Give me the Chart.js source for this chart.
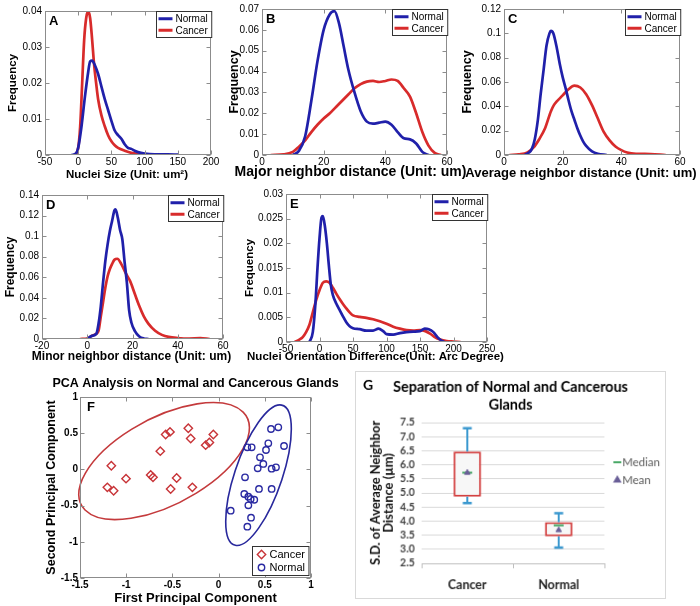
<!DOCTYPE html>
<html>
<head>
<meta charset="utf-8">
<script src="https://cdn.jsdelivr.net/npm/chart.js@4.4.1/dist/chart.umd.min.js"></script>
<style>
  body { margin: 0; background: #fff; }
  #page { position: relative; width: 700px; height: 606px; overflow: hidden; background: #fff; }
  #page canvas { position: absolute; }
</style>
</head>
<body>
<div id="page">
  <canvas id="panelA" width="225" height="187" style="left:0;top:0"></canvas>
  <canvas id="panelB" width="250" height="187" style="left:224px;top:0"></canvas>
  <canvas id="panelC" width="243" height="187" style="left:457px;top:0"></canvas>
  <canvas id="panelD" width="236" height="188" style="left:0;top:180px"></canvas>
  <canvas id="panelE" width="272" height="188" style="left:239px;top:180px"></canvas>
  <canvas id="panelF" width="310" height="235" style="left:40px;top:372px"></canvas>
  <canvas id="panelG" width="311" height="228" style="left:355px;top:371px;border:1px solid #d9d9d9"></canvas>
</div>
<script>
var legendLabels = ['Normal', 'Cancer'];

// A: nuclei size, [x, frequency]
var sizeNormal = [[-10,0],[-3,0.0005],[0,0.002],[5,0.008],[10,0.016],[15,0.023],[18,0.026],[21,0.0262],[25,0.025],[30,0.0225],[35,0.019],[40,0.0155],[45,0.0125],[50,0.0095],[55,0.0068],[60,0.0055],[65,0.0045],[70,0.003],[75,0.002],[80,0.0017],[85,0.0012],[90,0.0008],[100,0.0004],[115,0.0002],[135,0.0002],[150,0.0001]];
var sizeCancer = [[-5,0],[0,0.002],[3,0.008],[6,0.02],[9,0.032],[12,0.038],[15,0.04],[18,0.038],[21,0.032],[24,0.025],[27,0.02],[30,0.0155],[35,0.011],[40,0.008],[45,0.0055],[50,0.0038],[55,0.0027],[60,0.002],[70,0.0012],[80,0.0006],[95,0.0002],[125,0]];

// B: major neighbor distance
var majorNormal = [[10,0],[12,0.002],[14,0.009],[16,0.026],[18,0.045],[20,0.06],[22,0.0675],[23.5,0.069],[25,0.063],[26.5,0.052],[28,0.041],[30,0.03],[32,0.021],[34,0.016],[36,0.015],[38,0.0155],[40,0.016],[42,0.0145],[44,0.011],[46,0.008],[48,0.0075],[50,0.0055],[52,0.0015],[54,0]];
var majorCancer = [[3,0],[7,0.0003],[10,0.0015],[12,0.004],[14,0.007],[16,0.011],[18,0.0145],[20,0.0175],[22,0.02],[24,0.023],[26,0.026],[28,0.029],[30,0.032],[32,0.034],[34,0.0352],[36,0.0355],[38,0.035],[40,0.0355],[42,0.0362],[44,0.0355],[46,0.032],[48,0.028],[50,0.02],[52,0.011],[54,0.0045],[56,0.001],[58,0]];

// C: average neighbor distance
var avgNormal = [[7,0],[8.5,0.002],[9.5,0.005],[10.5,0.013],[11.5,0.028],[12.5,0.05],[13.5,0.07],[14.5,0.09],[15.5,0.1],[16,0.102],[16.8,0.1],[18,0.088],[19,0.075],[20,0.064],[21,0.055],[22,0.045],[23,0.036],[24,0.029],[25,0.022],[26,0.016],[27,0.011],[28,0.0075],[30,0.003],[32,0.001],[35,0]];
var avgCancer = [[2,0],[5,0.0005],[8,0.002],[10,0.006],[12,0.013],[14,0.022],[16,0.036],[17,0.041],[18,0.044],[20,0.049],[22,0.054],[24,0.057],[26,0.0555],[28,0.05],[30,0.041],[32,0.03],[34,0.019],[36,0.012],[38,0.007],[40,0.004],[42,0.002],[45,0.001],[50,0.0008],[55,0]];

// D: minor neighbor distance
var minorNormal = [[0,0],[2,0.003],[4,0.005],[5,0.015],[6,0.032],[7,0.055],[8,0.076],[9,0.092],[10,0.105],[11,0.115],[12,0.125],[12.5,0.126],[13.5,0.118],[14.5,0.106],[15.5,0.097],[16.5,0.075],[17.5,0.055],[18.5,0.028],[19.5,0.016],[21,0.008],[23,0.0025],[25,0.0005],[27,0]];
var minorCancer = [[-3,0],[0,0.0005],[2,0.003],[4,0.005],[5,0.008],[6,0.022],[7,0.036],[8,0.05],[9,0.061],[10,0.068],[11,0.073],[12,0.077],[13.3,0.078],[15,0.073],[17,0.064],[19,0.056],[21,0.044],[23,0.032],[25,0.022],[27,0.015],[30,0.008],[33,0.004],[36,0.002],[40,0.001],[45,0.0005],[50,0.0008],[54,0]];

// E: nuclei orientation difference
var orientNormal = [[-15,0],[-10,0.002],[-6,0.008],[-3,0.015],[0,0.021],[3,0.0252],[5,0.0255],[8,0.0235],[11,0.02],[14,0.0155],[17,0.0115],[20,0.0095],[25,0.0078],[30,0.0065],[35,0.0052],[40,0.004],[45,0.0032],[50,0.0028],[60,0.0026],[70,0.0023],[80,0.0023],[88,0.0027],[95,0.0022],[100,0.0016],[110,0.0015],[120,0.0018],[130,0.002],[140,0.0021],[150,0.0022],[157,0.0027],[163,0.0026],[170,0.002],[176,0.001],[182,0.0003],[186,0]];
var orientCancer = [[-37,0],[-30,0.0005],[-25,0.001],[-20,0.002],[-15,0.0035],[-10,0.006],[-5,0.0085],[0,0.0105],[5,0.012],[10,0.0123],[15,0.012],[20,0.011],[25,0.0098],[30,0.0087],[35,0.0077],[40,0.0068],[45,0.006],[50,0.0054],[60,0.0051],[70,0.0049],[80,0.0046],[90,0.0042],[100,0.0037],[110,0.0031],[120,0.0027],[130,0.0024],[140,0.0023],[150,0.0024],[158,0.0022],[165,0.0017],[172,0.001],[180,0.0005],[190,0.0002],[200,0.0001],[210,0]];

// F: PCA scores [pc1, pc2]
var pcaCancer = [[-1.204,-0.248],[-1.161,0.05],[-1.136,-0.294],[-1.002,-0.128],[-0.735,-0.078],[-0.71,-0.11],[-0.631,0.252],[-0.573,0.482],[-0.526,0.518],[-0.519,-0.271],[-0.454,-0.119],[-0.328,0.569],[-0.302,0.427],[-0.284,-0.248],[-0.14,0.335],[-0.1,0.372],[-0.057,0.482]];
var pcaNormal = [[0.567,0.558],[0.646,0.581],[0.538,0.36],[0.513,0.268],[0.708,0.323],[0.311,0.305],[0.358,0.305],[0.448,0.167],[0.484,0.075],[0.423,0.015],[0.574,0.01],[0.621,0.029],[0.286,-0.109],[0.437,-0.27],[0.574,-0.27],[0.278,-0.34],[0.322,-0.377],[0.347,-0.409],[0.386,-0.419],[0.322,-0.496],[0.131,-0.57],[0.351,-0.667],[0.311,-0.791]];
// ellipses: centre x, centre y, semi-major, semi-minor, angle (deg)
var cancerEllipse = [-0.59, 0.115, 1.09, 0.563, 38.3];
var normalEllipse = [0.432, -0.08, 1.0, 0.26, 75.5];

// G: box plot of S.D. of average neighbor distance
var boxGroups = ['Cancer', 'Normal'];
var whiskerLow = [4.64, 3.06];
var quart1 = [4.87, 3.46];
var medianVals = [5.72, 3.85];
var meanVals = [5.72, 3.68];
var quart3 = [6.47, 3.96];
var whiskerHigh = [7.3, 4.28];

Chart.defaults.font.family = "'Liberation Sans', Arial, sans-serif";
Chart.defaults.color = '#000';

var BLUE = '#2020aa', RED = '#d82b2b';

function toXY(pts) {
    return pts.map(function (p) { return { x: p[0], y: p[1] }; });
}
function fmt(v) {
    return String(parseFloat(Number(v).toFixed(4)));
}

var panelDeco = {
    id: 'panelDeco',
    beforeDatasetsDraw: function (chart, args, opts) {
        if (!opts.ellipses) return;
        var ctx = chart.ctx, xs = chart.scales.x, ys = chart.scales.y;
        opts.ellipses.forEach(function (el) {
            var e = el.shape;
            var cx = xs.getPixelForValue(e[0]), cy = ys.getPixelForValue(e[1]);
            var kx = xs.getPixelForValue(e[0] + 1) - cx;
            var ky = ys.getPixelForValue(e[1] + 1) - cy;
            ctx.save();
            ctx.beginPath();
            ctx.save();
            ctx.translate(cx, cy);
            ctx.scale(kx, ky);
            ctx.rotate(e[4] * Math.PI / 180);
            ctx.ellipse(0, 0, e[2], e[3], 0, 0, Math.PI * 2);
            ctx.restore();
            ctx.strokeStyle = el.color;
            ctx.lineWidth = 1.6;
            ctx.stroke();
            ctx.restore();
        });
    },
    afterDatasetsDraw: function (chart, args, opts) {
        var ctx = chart.ctx, a = chart.chartArea;
        ctx.save();
        if (opts.frame) {
            var L = Math.round(a.left) + 0.5, T = Math.round(a.top) + 0.5;
            var R = Math.round(a.right) - 0.5, B = Math.round(a.bottom) - 0.5;
            ctx.strokeStyle = '#8c8c8c';
            ctx.lineWidth = 1;
            ctx.strokeRect(L, T, R - L, B - T);
            ctx.beginPath();
            var xs = chart.scales.x, ys = chart.scales.y;
            xs.ticks.forEach(function (t, i) {
                var px = Math.round(xs.getPixelForTick(i)) + 0.5;
                ctx.moveTo(px, B); ctx.lineTo(px, B - 4);
                ctx.moveTo(px, T); ctx.lineTo(px, T + 4);
            });
            ys.ticks.forEach(function (t, i) {
                var py = Math.round(ys.getPixelForTick(i)) + 0.5;
                ctx.moveTo(L, py); ctx.lineTo(L + 4, py);
                ctx.moveTo(R, py); ctx.lineTo(R - 4, py);
            });
            ctx.stroke();
        }
        if (opts.letter) {
            ctx.fillStyle = '#000';
            ctx.font = 'bold ' + (opts.letterFont || 13) + 'px ' + (opts.family || "'Liberation Sans', Arial");
            ctx.textAlign = 'left';
            ctx.textBaseline = 'middle';
            ctx.fillText(opts.letter, a.left + (opts.letterDx || 4), a.top + (opts.letterDy || 10));
        }
        if (opts.xTitle) {
            ctx.fillStyle = '#000';
            ctx.font = 'bold ' + opts.xTitleFont + 'px ' + "'Liberation Sans', Arial";
            ctx.textAlign = 'center';
            ctx.textBaseline = 'middle';
            ctx.fillText(opts.xTitle, (a.left + a.right) / 2 + (opts.xTitleDx || 0), a.bottom + opts.xTitleDy);
        }
        if (opts.yTitle) {
            var yt = opts.yTitle;
            ctx.fillStyle = '#111';
            ctx.font = yt.font;
            ctx.textAlign = 'center';
            ctx.textBaseline = 'middle';
            yt.lines.forEach(function (line, i) {
                ctx.save();
                ctx.translate(a.left + yt.dx[i], (a.top + a.bottom) / 2);
                ctx.rotate(-Math.PI / 2);
                ctx.fillText(line, 0, 0);
                ctx.restore();
            });
        }
        if (opts.title) {
            var t = opts.title;
            ctx.fillStyle = '#000';
            ctx.font = t.font;
            ctx.textAlign = 'center';
            ctx.textBaseline = 'middle';
            var tx = t.center === 'canvas' ? chart.width / 2 : (a.left + a.right) / 2;
            t.lines.forEach(function (line, i) {
                ctx.fillText(line, tx, a.top + t.dy + i * t.lh);
            });
        }
        if (opts.legend) {
            var sets = chart.data.datasets;
            var fs = opts.legendFont || 10;
            ctx.font = fs + "px 'Liberation Sans', Arial";
            var tw = 0;
            sets.forEach(function (d) { tw = Math.max(tw, ctx.measureText(d.label).width); });
            var sample = opts.markers ? 12 : 14;
            var rowH = opts.rowH || 11.5;
            var w = 3 + sample + 2 + tw + 4, h = rowH * sets.length + 3;
            var gap = opts.legendGap || 0;
            var x0 = Math.round(a.right - w - gap) + 0.5;
            var y0 = Math.round(opts.legend === 'br' ? a.bottom - h - gap : a.top + gap) + 0.5;
            ctx.fillStyle = '#fff';
            ctx.fillRect(x0, y0, w, h);
            ctx.strokeStyle = '#333';
            ctx.lineWidth = 1;
            ctx.strokeRect(x0, y0, w, h);
            sets.forEach(function (d, i) {
                var yy = y0 + 1.5 + rowH * (i + 0.5);
                ctx.strokeStyle = d.borderColor;
                if (opts.markers) {
                    ctx.fillStyle = 'rgba(0,0,0,0)';
                    ctx.lineWidth = d.borderWidth;
                    Chart.helpers.drawPoint(ctx, { pointStyle: d.pointStyle, radius: d.pointRadius, borderWidth: d.borderWidth, rotation: 0 }, x0 + 3 + sample / 2, yy);
                } else {
                    ctx.lineWidth = 3;
                    ctx.beginPath();
                    ctx.moveTo(x0 + 2, yy);
                    ctx.lineTo(x0 + 2 + sample, yy);
                    ctx.stroke();
                }
                ctx.fillStyle = '#000';
                ctx.textAlign = 'left';
                ctx.textBaseline = 'middle';
                ctx.fillText(d.label, x0 + 3 + sample + 2, yy + 0.5);
            });
        }
        if (opts.sideLegend) {
            ctx.font = "11.5px Lato, 'Liberation Sans'";
            ctx.textAlign = 'left';
            ctx.textBaseline = 'middle';
            opts.sideLegend.forEach(function (it, i) {
                var yy = a.top + 40 + i * 18;
                var mx = a.right + 13;
                ctx.strokeStyle = it.color;
                ctx.fillStyle = it.color;
                ctx.lineWidth = 2;
                Chart.helpers.drawPoint(ctx, { pointStyle: it.style, radius: it.radius, borderWidth: 2, rotation: 0 }, mx, yy);
                ctx.fillStyle = '#595959';
                ctx.fillText(it.label, a.right + 18, yy);
            });
        }
        ctx.restore();
    }
};

function densityPanel(id, normal, cancer, s) {
    return new Chart(document.getElementById(id), {
        type: 'line',
        data: {
            datasets: [
                { label: legendLabels[0], data: toXY(normal), borderColor: BLUE },
                { label: legendLabels[1], data: toXY(cancer), borderColor: RED }
            ]
        },
        options: {
            responsive: false,
            animation: false,
            events: [],
            layout: { padding: { top: s.top, right: s.right, left: 0, bottom: 0 } },
            elements: {
                point: { radius: 0 },
                line: { borderWidth: 2.7, cubicInterpolationMode: 'monotone', borderCapStyle: 'round', borderJoinStyle: 'round' }
            },
            plugins: {
                legend: { display: false },
                tooltip: { enabled: false },
                panelDeco: {
                    frame: true, letter: s.letter, legend: 'tr', legendFont: 10,
                    xTitle: s.xTitle, xTitleFont: s.xtf, xTitleDy: s.xdy, xTitleDx: s.xdx
                }
            },
            scales: {
                x: {
                    type: 'linear', min: s.x[0], max: s.x[1],
                    ticks: { stepSize: s.x[2], autoSkip: false, maxRotation: 0, padding: 1, font: { size: 10 }, callback: fmt },
                    grid: { display: false, drawTicks: false },
                    border: { display: false },
                    afterFit: function (sc) { sc.height = s.xH; }
                },
                y: {
                    min: 0, max: s.y[0],
                    ticks: { stepSize: s.y[1], autoSkip: false, padding: 3, font: { size: 10 }, callback: fmt },
                    grid: { display: false, drawTicks: false },
                    border: { display: false },
                    title: { display: true, text: 'Frequency', font: { size: s.ytf, weight: 'bold' }, padding: { top: s.ytp, bottom: 0 } },
                    afterFit: function (sc) { sc.width = s.yW; }
                }
            }
        },
        plugins: [panelDeco]
    });
}

densityPanel('panelA', sizeNormal, sizeCancer, {
    letter: 'A', top: 11, right: 14, yW: 45, xH: 32, x: [-50, 200, 50], y: [0.04, 0.01],
    xTitle: 'Nuclei Size (Unit: um\u00b2)', xtf: 11.5, xdy: 20, xdx: -1, ytf: 11.5, ytp: 6
});
densityPanel('panelB', majorNormal, majorCancer, {
    letter: 'B', top: 9, right: 27, yW: 38, xH: 32, x: [0, 60, 20], y: [0.07, 0.01],
    xTitle: 'Major neighbor distance (Unit: um)', xtf: 14, xdy: 17, xdx: -4, ytf: 12.5, ytp: 3.5
});
densityPanel('panelC', avgNormal, avgCancer, {
    letter: 'C', top: 8, right: 20, yW: 47, xH: 32, x: [0, 60, 20], y: [0.12, 0.02],
    xTitle: 'Average neighbor distance (Unit: um)', xtf: 13, xdy: 18, xdx: -11, ytf: 12.5, ytp: 3.5
});
densityPanel('panelD', minorNormal, minorCancer, {
    letter: 'D', top: 15, right: 13, yW: 42, xH: 29, x: [-20, 60, 20], y: [0.14, 0.02],
    xTitle: 'Minor neighbor distance (Unit: um)', xtf: 12, xdy: 18, xdx: -1, ytf: 12, ytp: 3
});
densityPanel('panelE', orientNormal, orientCancer, {
    letter: 'E', top: 14, right: 24, yW: 47, xH: 26, x: [-50, 250, 50], y: [0.03, 0.005],
    xTitle: 'Nuclei Orientation Difference(Unit: Arc Degree)', xtf: 11.5, xdy: 15, xdx: -11, ytf: 11.5, ytp: 4
});

// F: PCA scatter
new Chart(document.getElementById('panelF'), {
    type: 'scatter',
    data: {
        datasets: [
            { label: 'Cancer', data: toXY(pcaCancer), pointStyle: 'rectRot', pointRadius: 4.2, borderColor: '#c83438', backgroundColor: 'rgba(0,0,0,0)', borderWidth: 1.4 },
            { label: 'Normal', data: toXY(pcaNormal), pointStyle: 'circle', pointRadius: 3.2, borderColor: '#2a2aa2', backgroundColor: 'rgba(0,0,0,0)', borderWidth: 1.4 }
        ]
    },
    options: {
        responsive: false,
        animation: false,
        events: [],
        layout: { padding: { top: 25, right: 39, left: 0, bottom: 0 } },
        plugins: {
            legend: { display: false },
            tooltip: { enabled: false },
            panelDeco: {
                frame: true, letter: 'F', letterDx: 7, legend: 'br', legendGap: 3, markers: true, legendFont: 11, rowH: 13,
                ellipses: [{ shape: cancerEllipse, color: '#c43a3c' }, { shape: normalEllipse, color: '#28289c' }],
                title: { lines: ['PCA Analysis on Normal and Cancerous Glands'], font: "bold 12.5px 'Liberation Sans', Arial", dy: -13, lh: 15 },
                xTitle: 'First Principal Component', xtf: 12.5, xTitleDy: 20
            }
        },
        scales: {
            x: {
                type: 'linear', min: -1.5, max: 1,
                ticks: { stepSize: 0.5, autoSkip: false, maxRotation: 0, padding: 1, font: { size: 10, weight: 'bold' }, callback: fmt },
                grid: { display: false, drawTicks: false },
                border: { display: false },
                afterFit: function (sc) { sc.height = 29; }
            },
            y: {
                min: -1.5, max: 1,
                ticks: { stepSize: 0.5, autoSkip: false, padding: 2, font: { size: 10, weight: 'bold' }, callback: fmt },
                grid: { display: false, drawTicks: false },
                border: { display: false },
                title: { display: true, text: 'Second Principal Component', font: { size: 12.5, weight: 'bold' }, padding: { top: 4.5, bottom: 0 } },
                afterFit: function (sc) { sc.width = 40; }
            }
        }
    },
    plugins: [panelDeco]
});

// G: box plot built from floating bars, whisker lines and markers
var boxRanges = boxGroups.map(function (g, i) { return [quart1[i], quart3[i]]; });
var whiskerSegs = [];
var capPts = [];
boxGroups.forEach(function (g, i) {
    whiskerSegs.push({ x: g, y: quart3[i] }, { x: g, y: whiskerHigh[i] }, { x: g, y: null });
    whiskerSegs.push({ x: g, y: quart1[i] }, { x: g, y: whiskerLow[i] }, { x: g, y: null });
    capPts.push({ x: g, y: whiskerHigh[i] }, { x: g, y: whiskerLow[i] });
});
var WHISK = '#3a98cf', MEDIAN = '#48a866', MEAN = '#6a5f98';

new Chart(document.getElementById('panelG'), {
    type: 'bar',
    data: {
        labels: boxGroups,
        datasets: [
            { type: 'line', label: 'Mean', data: meanVals, showLine: false, pointStyle: 'triangle', pointRadius: 3.2, pointBackgroundColor: MEAN, pointBorderColor: MEAN, pointBorderWidth: 1, order: 0 },
            { type: 'line', label: 'Median', data: medianVals, showLine: false, pointStyle: 'line', pointRadius: 5, pointBorderColor: MEDIAN, pointBorderWidth: 2, order: 1 },
            { type: 'line', label: 'caps', data: capPts, showLine: false, pointStyle: 'line', pointRadius: 4.5, pointBorderColor: WHISK, pointBorderWidth: 2.5, order: 2 },
            { type: 'line', label: 'whiskers', data: whiskerSegs, borderColor: WHISK, borderWidth: 2, pointRadius: 0, spanGaps: false, order: 3 },
            { type: 'bar', label: 'box', data: boxRanges, backgroundColor: '#f7f7f7', borderColor: '#d23c3c', borderWidth: 2, borderSkipped: false, barPercentage: 0.3, categoryPercentage: 1, order: 4 }
        ]
    },
    options: {
        responsive: false,
        animation: false,
        events: [],
        layout: { padding: { top: 51, right: 61, left: 0, bottom: 0 } },
        plugins: {
            legend: { display: false },
            tooltip: { enabled: false },
            panelDeco: {
                letter: 'G', family: "Lato, 'Liberation Sans'", letterFont: 14, letterDx: -59, letterDy: -38,
                title: { lines: ['Separation of Normal and Cancerous', 'Glands'], font: "bold 14.5px Lato, 'Liberation Sans'", center: 'canvas', dy: -36, lh: 18 },
                yTitle: { lines: ['S.D. of Average Neighbor', 'Distance (\u00b5m)'], font: "bold 13px Lato, 'Liberation Sans'", dx: [-46, -33] },
                sideLegend: [
                    { label: 'Median', style: 'line', radius: 4, color: MEDIAN },
                    { label: 'Mean', style: 'triangle', radius: 3, color: MEAN }
                ]
            }
        },
        scales: {
            x: {
                ticks: { padding: 9, font: { family: "Lato, 'Liberation Sans'", size: 12.5, weight: 'bold' }, color: '#222' },
                grid: { display: true, drawOnChartArea: false, offset: true, tickLength: 5, color: '#bfbfbf' },
                border: { display: true, color: '#bfbfbf' },
                afterFit: function (sc) { sc.height = 35; }
            },
            y: {
                min: 2.5, max: 7.5,
                ticks: { stepSize: 0.5, autoSkip: false, padding: 7, font: { family: "Lato, 'Liberation Sans'", size: 10.5, weight: 'bold' }, color: '#404040' },
                grid: { color: '#d9d9d9', drawTicks: false },
                border: { display: false },
                afterFit: function (sc) { sc.width = 66; }
            }
        }
    },
    plugins: [panelDeco]
});
</script>
</body>
</html>
